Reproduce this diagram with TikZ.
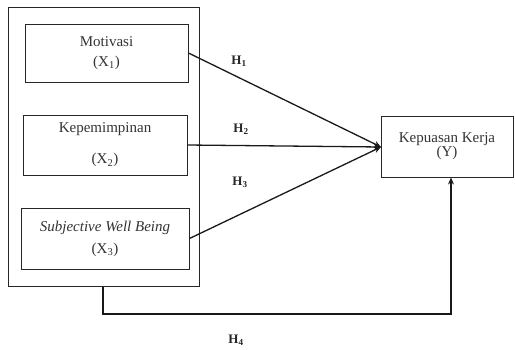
\documentclass[tikz,border=0pt]{standalone}
\usepackage{fontspec}
\setmainfont{Liberation Serif}
\usetikzlibrary{arrows.meta}
\tikzset{
  varbox/.style={draw=black!85, line width=1pt, align=center, inner sep=0pt,
    font=\fontsize{15}{17}\selectfont, text=black!80},
  conn/.style={draw=black!90, line width=1.3pt, -{Stealth[length=7pt,width=6pt]}},
  hlabel/.style={font=\fontsize{13}{15}\selectfont\bfseries, text=black!85, inner sep=0pt}
}
\begin{document}
\begin{tikzpicture}[x=1pt,y=-1pt]
\useasboundingbox (0,0) rectangle (515,349);
\node[varbox, minimum width=191pt, minimum height=279pt] (outer) at (103.5,146.5) {};
\node[varbox, minimum width=163pt, minimum height=58pt] (x1) at (106.5,53)
  {Motivasi\\[3pt](X\textsubscript{1})};
\node[varbox, minimum width=164pt, minimum height=60pt] (x2) at (105,145)
  {Kepemimpinan\\[14pt](X\textsubscript{2})};
\node[varbox, minimum width=168pt, minimum height=61pt] (x3) at (105,238.5)
  {\textit{Subjective Well Being}\\[5pt](X\textsubscript{3})};
\node[varbox, minimum width=132pt, minimum height=61pt] (y) at (447,146.5)
  {Kepuasan Kerja\\[-3pt](Y)};
\coordinate (tip) at (381,147);
\draw[conn] (x1.east) -- (tip);
\draw[conn] (x2.east) -- (tip);
\draw[conn] (x3.east) -- (tip);
\coordinate (c1) at (103,314);
\coordinate (c2) at (451,314);
\draw[conn] (outer.south -| c1) -- (c1) -- (c2) -- (c2 |- y.south);
\node[hlabel] (h1) at (239,61) {H\textsubscript{1}};
\node[hlabel] (h2) at (241,129) {H\textsubscript{2}};
\node[hlabel] (h3) at (240,182) {H\textsubscript{3}};
\node[hlabel] (h4) at (236,340) {H\textsubscript{4}};
\end{tikzpicture}
\end{document}
